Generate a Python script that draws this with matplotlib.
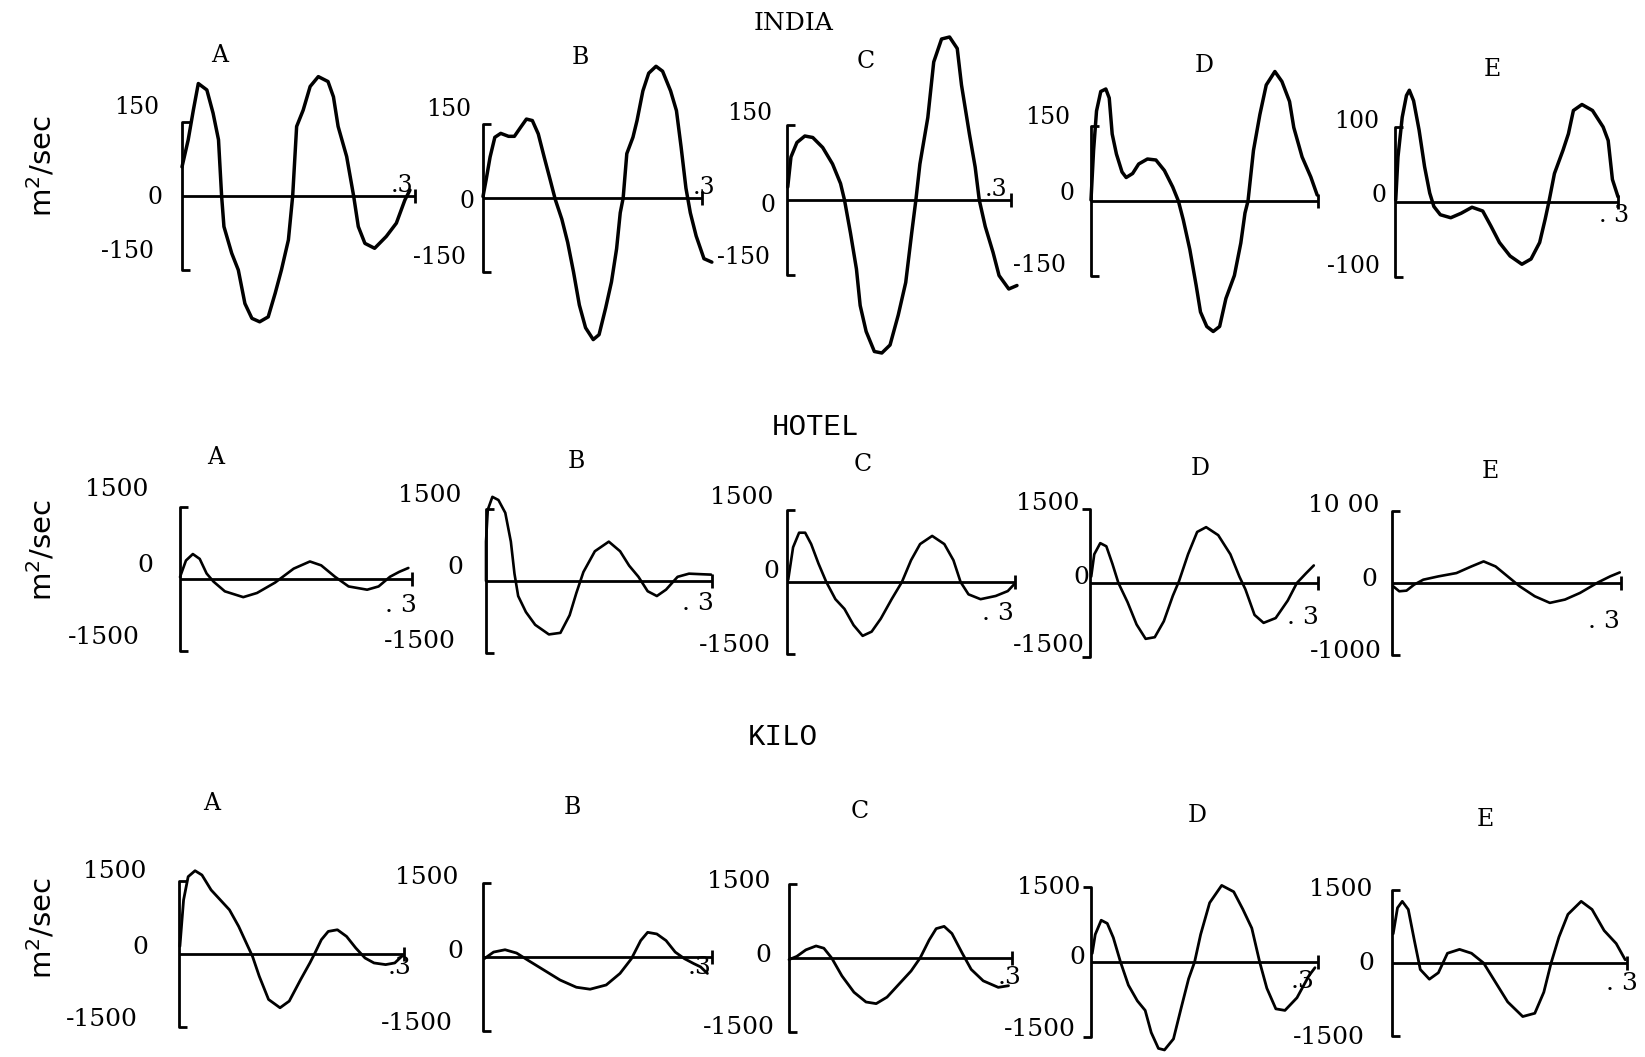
import matplotlib.pyplot as plt

W, H = 1645, 1057

# ---- traces: time (s) and value (m^2/sec) ----
india_a_t = [0, 0.008, 0.0146, 0.021, 0.032, 0.040, 0.047, 0.051, 0.054, 0.064, 0.0725, 0.081, 0.090, 0.100,
             0.111, 0.120, 0.128, 0.137, 0.1425, 0.1476, 0.156, 0.165, 0.1755, 0.188, 0.195, 0.201, 0.212,
             0.221, 0.227, 0.2355, 0.248, 0.263, 0.276, 0.287, 0.2935]
india_a_v = [59, 114, 174, 228, 215, 168, 114, 0, -62, -116, -150, -218, -248, -255,
             -245, -197, -150, -89, 0, 141, 174, 222, 242, 232, 201, 141, 80,
             0, -62, -96, -106, -82, -55, -8, 12]

india_b_t = [0, 0.0043, 0.0097, 0.0162, 0.0243, 0.035, 0.043, 0.0514, 0.0595, 0.0676, 0.0757, 0.0838, 0.092,
             0.099, 0.108, 0.116, 0.124, 0.132, 0.1405, 0.151, 0.159, 0.168, 0.176, 0.183, 0.188, 0.192,
             0.197, 0.2054, 0.211, 0.219, 0.227, 0.237, 0.246, 0.257, 0.265, 0.2714, 0.278, 0.284, 0.292,
             0.3027, 0.3135]
india_b_v = [3, 37, 83, 123, 131, 125, 125, 143, 160, 157, 130, 83, 37,
             -3, -43, -90, -150, -217, -263, -287, -277, -223, -170, -103, -30, 0,
             90, 123, 157, 217, 253, 267, 257, 217, 177, 103, 20, -30, -77,
             -123, -130]

india_c_t = [0.001, 0.0053, 0.0133, 0.0239, 0.0345, 0.0478, 0.061, 0.0717, 0.077, 0.085, 0.093, 0.098, 0.106,
             0.117, 0.127, 0.138, 0.149, 0.159, 0.167, 0.1726, 0.178, 0.1886, 0.1965, 0.207, 0.2177, 0.228,
             0.2337, 0.2443, 0.252, 0.2575, 0.2655, 0.276, 0.284, 0.297, 0.308]
india_c_v = [26, 86, 115, 128, 125, 105, 72, 33, 0, -66, -138, -211, -263,
             -303, -306, -290, -230, -165, -66, 0, 72, 165, 276, 322, 326, 303,
             230, 132, 66, 0, -53, -105, -151, -178, -171]

india_d_t = [0, 0.0034, 0.0073, 0.0129, 0.0196, 0.0241, 0.028, 0.0336, 0.041, 0.0465, 0.055, 0.063, 0.0746,
             0.0858, 0.097, 0.108, 0.1155, 0.122, 0.1306, 0.139, 0.1447, 0.153, 0.1615, 0.170, 0.1783,
             0.1895, 0.198, 0.2035, 0.2075, 0.2147, 0.2232, 0.2316, 0.243, 0.2523, 0.2624, 0.268, 0.279,
             0.2905, 0.2989]
india_d_v = [2, 101, 180, 219, 224, 206, 134, 94, 58, 47, 55, 74, 84,
             82, 61, 28, 0, -38, -97, -169, -222, -251, -261, -251, -195,
             -149, -84, -24, 0, 101, 173, 232, 259, 239, 199, 147, 88,
             48, 12]

india_e_t = [0.001, 0.004, 0.0097, 0.0154, 0.0193, 0.025, 0.0324, 0.0398, 0.0467, 0.0523, 0.061, 0.075, 0.089,
             0.1036, 0.118, 0.129, 0.1405, 0.1548, 0.1707, 0.183, 0.1946, 0.202, 0.207, 0.2145, 0.226,
             0.2333, 0.240, 0.2515, 0.2657, 0.28, 0.2868, 0.2925, 0.30]
india_e_v = [3, 60, 113, 142, 149, 135, 96, 47, 12, -6, -17, -21, -15,
             -7, -12, -32, -54, -72, -83, -76, -54, -23, 0, 38, 69,
             91, 122, 130, 122, 100, 82, 30, 7]

hotel_a_t = [0, 0.0077, 0.0166, 0.0255, 0.0344, 0.0433, 0.058, 0.0818, 0.0996, 0.123, 0.147, 0.168, 0.1826,
             0.2004, 0.218, 0.242, 0.2568, 0.2716, 0.2835, 0.2953]
hotel_a_v = [40, 385, 520, 419, 115, -54, -257, -378, -291, -74, 216, 365, 284,
             47, -155, -223, -155, 47, 149, 230]

hotel_b_t = [0, 0, 0.0024, 0.0085, 0.0165, 0.0256, 0.033, 0.0378, 0.0427, 0.053, 0.0653, 0.0835, 0.0988, 0.111,
             0.120, 0.1293, 0.1445, 0.163, 0.178, 0.190, 0.2024, 0.2146, 0.2268, 0.239, 0.2543, 0.2695,
             0.2878, 0.2988]
hotel_b_v = [0, 820, 1487, 1753, 1687, 1420, 820, 153, -313, -647, -913, -1113, -1080, -713,
             -247, 187, 620, 820, 620, 320, 87, -213, -313, -180, 87, 153,
             140, 133]

hotel_c_t = [0.0016, 0.008, 0.0159, 0.0239, 0.0318, 0.0414, 0.0517, 0.0637, 0.0756, 0.0876, 0.0995, 0.1114,
             0.1234, 0.1377, 0.1512, 0.1632, 0.1751, 0.191, 0.207, 0.219, 0.2284, 0.2388, 0.2547, 0.2746,
             0.2905, 0.2985]
hotel_c_v = [47, 723, 1027, 1027, 790, 385, 0, -358, -561, -899, -1122, -1034,
             -764, -358, 0, 453, 790, 960, 790, 453, 0, -257, -358, -291,
             -189, -54]

hotel_d_t = [0.0016, 0.0056, 0.0135, 0.0215, 0.0295, 0.0374, 0.0494, 0.0613, 0.0732, 0.0852, 0.0971, 0.109,
             0.117, 0.129, 0.141, 0.1528, 0.1687, 0.1847, 0.1966, 0.2045, 0.2165, 0.2284, 0.2443, 0.2602,
             0.2722, 0.2841, 0.2945]
hotel_d_v = [129, 582, 808, 744, 388, 0, -388, -841, -1132, -1099, -776, -259,
             32, 582, 1035, 1132, 970, 582, 129, -129, -647, -808, -711, -356,
             0, 194, 356]

hotel_e_t = [0.0016, 0.0095, 0.019, 0.029, 0.041, 0.0608, 0.0844, 0.104, 0.12, 0.1357, 0.1515, 0.1673,
             0.187, 0.2068, 0.2266, 0.2463, 0.27, 0.2858, 0.2984]
hotel_e_v = [-46, -115, -106, -23, 46, 92, 138, 230, 300, 230, 92, -46,
             -184, -276, -230, -138, 9, 92, 147]

kilo_a_t = [0.0012, 0.0061, 0.0122, 0.0214, 0.0306, 0.0428, 0.0551, 0.0673, 0.0796, 0.0918, 0.098, 0.107,
            0.1194, 0.1347, 0.147, 0.1622, 0.1745, 0.1806, 0.1898, 0.199, 0.2112, 0.2234, 0.2357, 0.248,
            0.26, 0.2755, 0.2877, 0.297]
kilo_a_v = [157, 1111, 1589, 1711, 1623, 1316, 1111, 907, 566, 157, -48, -457,
            -934, -1105, -968, -525, -184, 0, 293, 464, 498, 361, 123, -82,
            -184, -218, -184, -48]

kilo_b_t = [0.0018, 0.0139, 0.0289, 0.044, 0.059, 0.080, 0.101, 0.1223, 0.1403, 0.1614, 0.1795, 0.1945,
            0.2066, 0.2157, 0.2277, 0.2398, 0.2518, 0.2638, 0.276, 0.285, 0.294]
kilo_b_v = [-33, 100, 147, 80, -67, -267, -467, -613, -653, -567, -333, -33,
            333, 500, 467, 333, 100, -33, -133, -200, -333]

kilo_c_t = [0, 0.0105, 0.0227, 0.0364, 0.0469, 0.0574, 0.0712, 0.0874, 0.1036, 0.1173, 0.1319, 0.148,
            0.1642, 0.1764, 0.1885, 0.198, 0.2087, 0.2192, 0.233, 0.2451, 0.2613, 0.2815, 0.2953]
kilo_c_v = [-33, 33, 165, 244, 198, 0, -363, -694, -892, -925, -793, -529,
            -264, 0, 363, 595, 641, 496, 99, -231, -463, -595, -562]

kilo_d_t = [0.0016, 0.0056, 0.0135, 0.0215, 0.0295, 0.039, 0.0494, 0.0613, 0.0716, 0.0796, 0.0891, 0.0971,
            0.109, 0.1194, 0.129, 0.1369, 0.1449, 0.1568, 0.1727, 0.1886, 0.2006, 0.2125, 0.2229, 0.2324,
            0.2443, 0.2563, 0.2722, 0.2881, 0.296]
kilo_d_v = [171, 551, 835, 772, 487, 0, -462, -778, -968, -1411, -1728, -1759,
            -1538, -905, -335, 0, 551, 1184, 1532, 1405, 1057, 677, 0, -525,
            -937, -968, -715, -272, -114]

kilo_e_t = [0.0015, 0.007, 0.0131, 0.0208, 0.0285, 0.0361, 0.0477, 0.0592, 0.0708, 0.0862, 0.1015, 0.1169,
            0.1323, 0.1477, 0.1669, 0.1823, 0.1938, 0.2031, 0.2131, 0.2246, 0.2415, 0.2554, 0.2708, 0.2862,
            0.2977]
kilo_e_v = [600, 1133, 1267, 1100, 467, -133, -333, -200, 200, 280, 200, 0,
            -400, -800, -1100, -1033, -600, 0, 533, 1000, 1267, 1100, 667, 400,
            67]

stations = ["INDIA", "HOTEL", "KILO"]
letters = ["A", "B", "C", "D", "E"]
full_scale = {"INDIA": [150, 150, 150, 150, 100],
              "HOTEL": [1500, 1500, 1500, 1500, 1000],
              "KILO": [1500, 1500, 1500, 1500, 1500]}
top_text = {"INDIA": ["150", "150", "150", "150", "100"],
            "HOTEL": ["1500", "1500", "1500", "1500", "10 00"],
            "KILO": ["1500", "1500", "1500", "1500", "1500"]}
bottom_text = {"INDIA": ["-150", "-150", "-150", "-150", "-100"],
               "HOTEL": ["-1500", "-1500", "-1500", "-1500", "-1000"],
               "KILO": ["-1500", "-1500", "-1500", "-1500", "-1500"]}
end_text = {"INDIA": [".3", ".3", ".3", None, ". 3"],
            "HOTEL": [". 3", ". 3", ". 3", ". 3", ". 3"],
            "KILO": [".3", ".3", ".3", ".3", ". 3"]}
traces = {"INDIA": [(india_a_t, india_a_v), (india_b_t, india_b_v), (india_c_t, india_c_v),
                    (india_d_t, india_d_v), (india_e_t, india_e_v)],
          "HOTEL": [(hotel_a_t, hotel_a_v), (hotel_b_t, hotel_b_v), (hotel_c_t, hotel_c_v),
                    (hotel_d_t, hotel_d_v), (hotel_e_t, hotel_e_v)],
          "KILO": [(kilo_a_t, kilo_a_v), (kilo_b_t, kilo_b_v), (kilo_c_t, kilo_c_v),
                   (kilo_d_t, kilo_d_v), (kilo_e_t, kilo_e_v)]}

# ---- layout in pixels of the page (x right, y down) ----
# x of vertical axis, x of the .3 tick, y of zero line, half height of bracket
geom = {"INDIA": [(182, 415, 196, 74), (483, 702, 198, 74), (787, 1011, 200, 75),
                  (1091, 1318, 201, 75), (1395, 1618, 202, 75)],
        "HOTEL": [(180, 412, 579, 72), (486, 712, 581, 72), (787, 1015, 582, 72),
                  (1090, 1318, 583, 74), (1392, 1621, 583, 72)],
        "KILO": [(179, 404, 954, 73), (483, 712, 957, 74), (789, 1012, 958, 74),
                 (1091, 1318, 962, 75), (1392, 1627, 963, 73)]}
# label centres: top, zero, bottom, .3, letter
labpos = {"INDIA": [((137, 108), (155, 198), (127, 252), (402, 186), (220, 55)),
                    ((449, 110), (467, 202), (440, 258), (704, 188), (580, 58)),
                    ((750, 113), (768, 205), (743, 258), (996, 189), (866, 62)),
                    ((1048, 118), (1067, 193), (1039, 265), None, (1204, 66)),
                    ((1357, 122), (1379, 195), (1353, 267), (1614, 216), (1492, 70))],
          "HOTEL": [((117, 490), (145, 565), (104, 638), (401, 606), (216, 458)),
                    ((430, 495), (455, 568), (420, 642), (698, 603), (576, 462)),
                    ((742, 497), (771, 572), (735, 645), (998, 613), (863, 465)),
                    ((1048, 503), (1081, 578), (1049, 646), (1303, 617), (1200, 468)),
                    ((1344, 506), (1369, 580), (1346, 652), (1604, 622), (1490, 472))],
          "KILO": [((115, 872), (140, 948), (102, 1020), (400, 967), (212, 804)),
                   ((427, 878), (455, 952), (417, 1023), (700, 967), (572, 808)),
                   ((739, 882), (763, 955), (739, 1028), (1010, 977), (860, 812)),
                   ((1049, 888), (1077, 958), (1040, 1030), (1303, 982), (1197, 815)),
                   ((1341, 890), (1366, 963), (1329, 1037), (1622, 983), (1485, 820))]}
tick_side = {"INDIA": [1, 1, 1, 1, 1], "HOTEL": [1, 1, 1, -1, 1], "KILO": [1, 1, 1, -1, 1]}
title_pos = {"INDIA": (794, 23), "HOTEL": (815, 427), "KILO": (783, 737)}
ylabel_pos = {"INDIA": (42, 166), "HOTEL": (42, 550), "KILO": (42, 928)}
curve_lw = {"INDIA": 2.5, "HOTEL": 1.9, "KILO": 2.0}
num_size = {"INDIA": 17, "HOTEL": 18, "KILO": 18}

NUMFONT = "DejaVu Serif"
SERIF = "DejaVu Serif"
TYPE = "Liberation Mono"

fig = plt.figure(figsize=(W / 100, H / 100), dpi=100)


def put(x, y, s, **kw):
    fig.text(x / W, 1 - y / H, s, ha="center", va="center", **kw)


for st in stations:
    for i, letter in enumerate(letters):
        x0, x1, y0, half = geom[st][i]
        fs = full_scale[st][i]
        ax = fig.add_axes([x0 / W, (H - y0 - half) / H, (x1 - x0) / W, 2 * half / H])
        ax.set_xlim(0, 0.3)
        ax.set_ylim(-fs, fs)
        ax.axis("off")

        tx = 8 / (x1 - x0) * 0.3 * tick_side[st][i]
        ty = 7 / half * fs
        style = dict(color="black", lw=2.0, clip_on=False, solid_capstyle="butt")
        ax.plot([tx, 0, 0, tx], [fs, fs, -fs, -fs], **style)
        ax.plot([0, 0.3], [0, 0], **style)
        ax.plot([0.3, 0.3], [-ty, ty], **style)

        t, v = traces[st][i]
        ax.plot(t, v, color="black", lw=curve_lw[st], clip_on=False,
                solid_joinstyle="round", solid_capstyle="round")

        ptop, pzero, pbot, pend, plet = labpos[st][i]
        put(*ptop, top_text[st][i], family=NUMFONT, fontsize=num_size[st])
        put(*pzero, "0", family=NUMFONT, fontsize=num_size[st])
        put(*pbot, bottom_text[st][i], family=NUMFONT, fontsize=num_size[st])
        if pend is not None:
            put(*pend, end_text[st][i], family=NUMFONT, fontsize=num_size[st])
        put(*plet, letter, family=SERIF, fontsize=17)

    if st == "INDIA":
        put(*title_pos[st], st, family=SERIF, fontsize=18)
    else:
        put(*title_pos[st], st, family=TYPE, fontsize=21)
    put(*ylabel_pos[st], "m$^2$/sec", family="DejaVu Sans", fontsize=21, rotation=90)

fig.savefig("out.png", dpi=100, facecolor="white")
